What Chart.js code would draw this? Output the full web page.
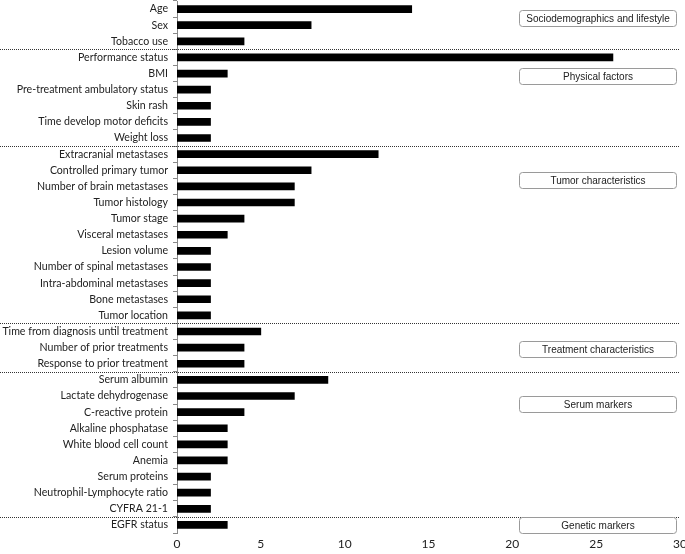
<!DOCTYPE html>
<html>
<head>
<meta charset="utf-8">
<script src="https://cdn.jsdelivr.net/npm/chart.js@4"></script>
<style>
  html, body { margin: 0; padding: 0; background: #fff; }
  #wrap { width: 685px; height: 554px; }
</style>
</head>
<body>
<div id="wrap"><canvas id="factorChart"></canvas></div>
<script>
const factorNames = [
    "Age", "Sex", "Tobacco use",
    "Performance status", "BMI", "Pre-treatment ambulatory status", "Skin rash", "Time develop motor deficits", "Weight loss",
    "Extracranial metastases", "Controlled primary tumor", "Number of brain metastases", "Tumor histology", "Tumor stage",
    "Visceral metastases", "Lesion volume", "Number of spinal metastases", "Intra-abdominal metastases", "Bone metastases", "Tumor location",
    "Time from diagnosis until treatment", "Number of prior treatments", "Response to prior treatment",
    "Serum albumin", "Lactate dehydrogenase", "C-reactive protein", "Alkaline phosphatase", "White blood cell count",
    "Anemia", "Serum proteins", "Neutrophil-Lymphocyte ratio", "CYFRA 21-1",
    "EGFR status"
];
const factorCounts = [
    14, 8, 4,
    26, 3, 2, 2, 2, 2,
    12, 8, 7, 7, 4, 3, 2, 2, 2, 2, 2,
    5, 4, 4,
    9, 7, 4, 3, 3, 3, 2, 2, 2,
    3
];
const groupNames = [
    "Sociodemographics and lifestyle", "Physical factors", "Tumor characteristics",
    "Treatment characteristics", "Serum markers", "Genetic markers"
];
const groupSizes = [3, 6, 11, 3, 9, 1];
const xTicks = [0, 5, 10, 15, 20, 25, 30];

// where each group label box sits, as a (fractional) row index
const boxRows = [0.56, 4.16, 10.6, 21.1, 24.5, 32];

const groupPlugin = {
    id: 'groups',
    afterDraw(chart) {
        const ctx = chart.ctx;
        const y = chart.scales.y;
        const x = chart.scales.x;
        const area = chart.chartArea;

        // dotted separators between groups
        ctx.save();
        ctx.strokeStyle = '#333';
        ctx.lineWidth = 1;
        ctx.setLineDash([1, 1]);
        let row = 0;
        for (let g = 0; g < groupSizes.length - 1; g++) {
            row += groupSizes[g];
            const py = Math.round(y.getPixelForValue(row - 0.5)) + 0.5;
            ctx.beginPath();
            ctx.moveTo(0, py);
            ctx.lineTo(area.right, py);
            ctx.stroke();
        }
        ctx.restore();

        // label boxes
        ctx.save();
        const left = Math.round(x.getPixelForValue(20.4)) + 0.5;
        const right = Math.round(area.right - 4) + 0.5;
        groupNames.forEach((name, i) => {
            const cy = y.getPixelForValue(boxRows[i]);
            const top = Math.round(cy - 8) + 0.5;
            ctx.beginPath();
            ctx.roundRect(left, top, right - left, 16, 3);
            ctx.fillStyle = '#fff';
            ctx.fill();
            ctx.strokeStyle = '#9a9a9a';
            ctx.lineWidth = 1;
            ctx.stroke();
            ctx.fillStyle = '#222';
            ctx.font = '10px "Liberation Sans", Arial, sans-serif';
            ctx.textAlign = 'center';
            ctx.textBaseline = 'middle';
            ctx.fillText(name, (left + right) / 2, top + 8.5);
        });
        ctx.restore();
    }
};

document.addEventListener('DOMContentLoaded', function() {
    const ctx = document.getElementById('factorChart').getContext('2d');

    new Chart(ctx, {
        type: 'bar',
        data: {
            labels: factorNames,
            datasets: [{
                data: factorCounts,
                backgroundColor: '#000',
                borderWidth: 0,
                barThickness: 7
            }]
        },
        options: {
            indexAxis: 'y',
            responsive: true,
            maintainAspectRatio: false,
            animation: false,
            layout: { autoPadding: false, padding: { top: 1, right: 5, bottom: 0, left: 0 } },
            plugins: {
                legend: { display: false },
                tooltip: { enabled: false }
            },
            scales: {
                x: {
                    min: 0,
                    max: 30,
                    afterBuildTicks: (scale) => {
                        scale.ticks = xTicks.map(v => ({ value: v }));
                    },
                    afterFit: (scale) => {
                        scale.height = 21;
                        scale.paddingLeft = 0;
                        scale.paddingRight = 0;
                    },
                    grid: { display: false, drawTicks: false },
                    border: { display: false },
                    ticks: {
                        color: '#222',
                        padding: 4,
                        font: { family: 'Lato, "DejaVu Sans", sans-serif', size: 12 }
                    }
                },
                y: {
                    afterFit: (scale) => {
                        scale.width = 177;
                        scale.paddingTop = 0;
                        scale.paddingBottom = 0;
                    },
                    grid: {
                        offset: true,
                        drawOnChartArea: false,
                        tickLength: 4,
                        color: '#888'
                    },
                    border: { display: true, color: '#888' },
                    ticks: {
                        color: '#222',
                        padding: 5,
                        autoSkip: false,
                        font: { family: 'Lato, "DejaVu Sans", sans-serif', size: 10.6 }
                    }
                }
            }
        },
        plugins: [groupPlugin]
    });
});
</script>
</body>
</html>
